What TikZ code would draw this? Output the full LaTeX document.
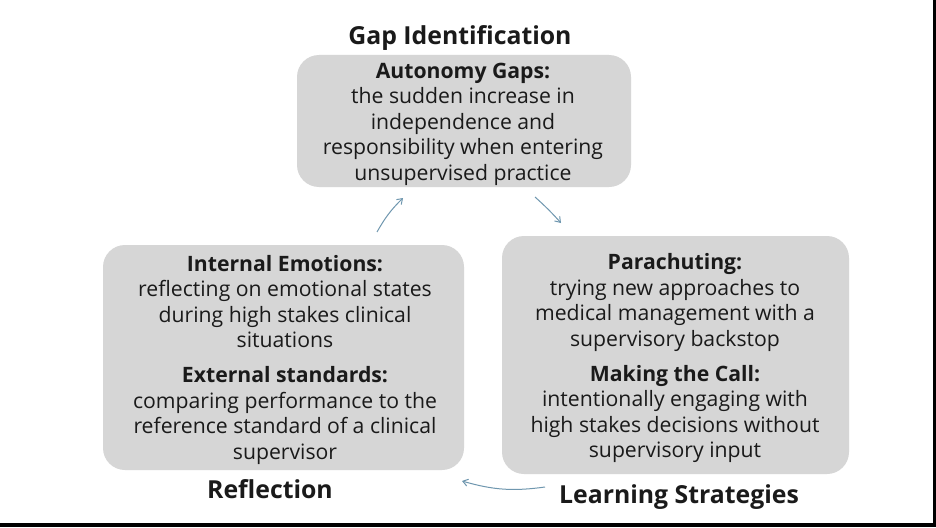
\documentclass[tikz,border=0pt]{standalone}
\usepackage{fontspec}
\setmainfont{Open Sans}
\usetikzlibrary{arrows.meta}
\definecolor{boxgray}{HTML}{D6D6D6}
\definecolor{txt}{HTML}{1A1A1A}
\definecolor{arr}{HTML}{6F97AF}
\tikzset{
  box/.style={fill=boxgray, rounded corners=22pt, draw=none},
  body/.style={text=txt, align=center, font=\fontsize{21.2}{25.4}\selectfont, inner sep=0pt},
  ttl/.style={text=txt, font=\fontsize{24.8}{28}\selectfont\bfseries, inner sep=0pt},
  flow/.style={draw=arr, line width=1pt, -{Straight Barb[length=5pt,width=7pt]}}
}
\begin{document}
\begin{tikzpicture}[x=1pt,y=-1pt]
\useasboundingbox (0,0) rectangle (936,527);
\fill[white] (0,0) rectangle (936,527);
\fill[black] (932.5,0) rectangle (936,527);
\fill[black] (0,523) rectangle (936,527);
% boxes
\fill[box] (297,55) rectangle (631,187);
\fill[box] (103,245) rectangle (464,470);
\fill[box] (502,236) rectangle (849,474);
% titles
\node[ttl] (gap) at (460,38) {Gap Identification};
\node[ttl] (refl) at (270,489) {Reflection};
\node[ttl] (learn) at (679,497) {Learning Strategies};
% text
\node[body, anchor=north] (top) at (463,63) {\textbf{Autonomy Gaps:}\\the sudden increase in\\independence and\\responsibility when entering\\unsupervised practice};
\node[body, anchor=north] (left) at (285,255) {\textbf{Internal Emotions:}\\reflecting on emotional states\\during high stakes clinical\\situations\\[10pt]\textbf{External standards:}\\comparing performance to the\\reference standard of a clinical\\supervisor};
\node[body, anchor=north] (right) at (675,253.5) {\textbf{Parachuting:}\\trying new approaches to\\medical management with a\\supervisory backstop\\[10pt]\textbf{Making the Call:}\\intentionally engaging with\\high stakes decisions without\\supervisory input};
% arrows
\coordinate (a1s) at (377,232); \coordinate (a1e) at (403,198);
\coordinate (a2s) at (535,197); \coordinate (a2e) at (561,223);
\coordinate (a3s) at (545,487); \coordinate (a3e) at (462,481);
\draw[flow] (a1s) to[bend left=8] (a1e);
\draw[flow] (a2s) to[bend left=3] (a2e);
\draw[flow] (a3s) to[bend left=12] (a3e);
\end{tikzpicture}
\end{document}
